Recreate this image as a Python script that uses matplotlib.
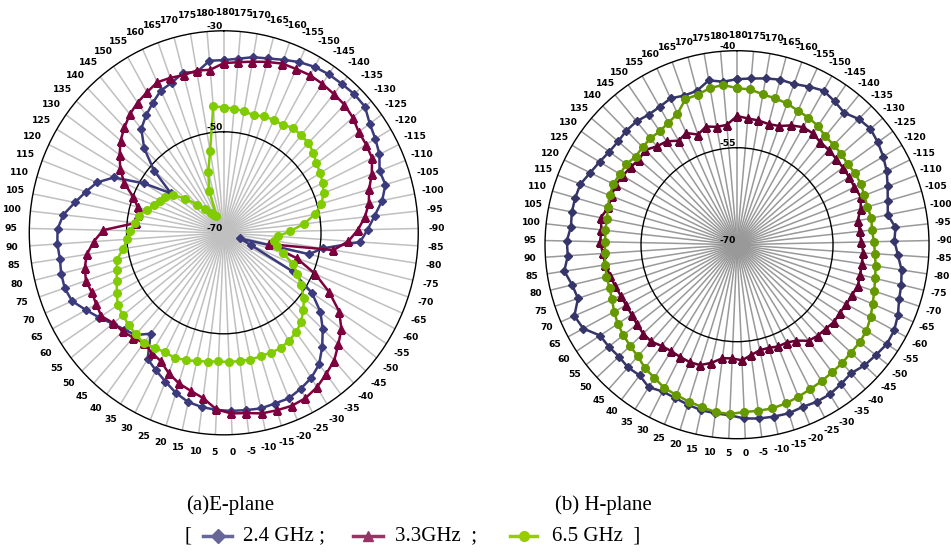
import numpy as np
import matplotlib as mpl
mpl.use('Agg')
import matplotlib.pyplot as plt
from matplotlib.lines import Line2D

# categories: -180 .. 180 step 5 (73 spokes)
angles = list(range(-180, 181, 5))

# E-plane (dB)
e_24 = [-35.8, -35.4, -34.7, -34.3, -33.6, -32.8, -32.2, -31.9, -31.8, -31.6,
        -31.7, -33.0, -33.7, -34.4, -35.7, -35.4, -36.8, -38.8, -40.4, -41.9,
        -49.4, -52.0, -66.5, -64.0, -53.9, -48.3, -44.7, -42.1, -39.7, -37.4,
        -36.1, -35.3, -34.6, -34.6, -34.4, -34.6, -34.7, -34.9, -35.2, -35.7,
        -36.8, -38.2, -39.4, -40.5, -45.0, -42.8, -42.0, -40.9, -39.4, -37.8,
        -36.0, -35.5, -35.6, -35.9, -35.7, -35.8, -36.8, -38.8, -40.5, -42.1,
        -44.9, -50.9, -56.6, -51.1, -46.6, -43.3, -41.8, -40.4, -39.0, -38.4,
        -37.2, -37.7, -35.8]
e_33 = [-36.4, -36.1, -35.6, -35.0, -34.4, -34.3, -34.1, -34.2, -34.4, -34.5,
        -35.0, -35.8, -35.9, -36.1, -37.4, -38.9, -39.6, -40.8, -42.4, -44.3,
        -47.2, -60.5, -54.2, -49.5, -45.4, -41.6, -39.2, -37.7, -36.0, -35.0,
        -33.9, -33.2, -33.0, -33.2, -33.4, -34.0, -34.2, -35.0, -37.0, -38.0,
        -38.8, -40.0, -41.5, -42.0, -42.7, -42.1, -41.5, -41.1, -39.9, -40.2,
        -40.4, -40.1, -40.6, -41.5, -43.2, -45.2, -51.8, -52.0, -51.6, -50.0,
        -47.2, -45.2, -43.6, -42.0, -40.8, -39.6, -38.7, -38.0, -37.2, -37.4,
        -37.7, -37.4, -37.6]
e_65 = [-45.2, -45.3, -45.6, -45.9, -45.5, -45.4, -45.4, -44.8, -45.0, -45.1,
        -45.7, -46.5, -46.9, -47.4, -48.0, -49.1, -50.9, -53.4, -56.4, -58.8,
        -59.6, -58.8, -57.1, -54.5, -52.8, -51.0, -49.0, -47.6, -46.2, -45.3,
        -44.8, -44.3, -44.4, -44.4, -44.3, -44.4, -44.4, -44.5, -44.3, -44.0,
        -43.6, -43.3, -43.4, -43.2, -42.6, -43.0, -43.2, -43.6, -43.9, -45.0,
        -46.0, -46.8, -47.4, -49.1, -50.0, -50.8, -51.6, -52.2, -53.5, -54.7,
        -55.4, -56.0, -57.2, -59.6, -62.2, -64.0, -65.2, -66.0, -66.4, -61.2,
        -57.5, -53.6, -44.8]

# H-plane (dB)
h_24 = [-44.4, -44.2, -43.9, -43.6, -43.6, -43.1, -42.6, -43.1, -43.6, -42.8,
        -42.5, -42.9, -43.4, -44.0, -44.8, -45.5, -46.0, -45.1, -45.4, -44.8,
        -44.0, -43.6, -43.3, -42.6, -42.1, -42.0, -42.4, -42.7, -43.3, -43.0,
        -42.7, -42.7, -42.9, -42.7, -42.8, -42.9, -43.1, -43.6, -43.7, -43.8,
        -44.1, -44.4, -44.5, -44.0, -44.7, -44.5, -44.7, -44.5, -44.4, -42.7,
        -42.3, -43.8, -43.5, -42.7, -43.5, -43.4, -43.9, -43.7, -43.7, -43.8,
        -44.5, -45.0, -45.4, -45.5, -45.3, -45.3, -45.6, -45.5, -45.1, -45.5,
        -45.4, -44.2, -44.7]
h_33 = [-50.1, -50.4, -50.5, -50.7, -50.5, -49.7, -49.1, -49.1, -49.5, -49.5,
        -49.6, -49.6, -49.6, -49.6, -49.3, -49.9, -50.8, -50.7, -50.6, -50.2,
        -50.3, -50.2, -50.1, -50.4, -50.6, -50.8, -50.7, -51.0, -51.1, -51.4,
        -52.5, -53.0, -53.0, -53.3, -53.3, -52.8, -52.1, -52.4, -52.3, -51.3,
        -50.5, -50.4, -50.5, -50.6, -50.4, -49.9, -49.9, -50.1, -50.3, -50.3,
        -50.2, -49.9, -49.6, -49.2, -49.0, -48.6, -48.7, -48.3, -49.1, -49.0,
        -48.9, -49.2, -49.5, -49.8, -49.5, -50.3, -50.6, -51.5, -51.0, -51.9,
        -51.1, -51.5, -51.4]
h_65 = [-45.8, -45.9, -46.4, -46.6, -46.8, -47.2, -47.4, -47.7, -48.3, -48.4,
        -48.5, -48.7, -48.5, -48.5, -48.7, -48.8, -48.6, -48.8, -48.6, -48.4,
        -48.1, -47.8, -47.4, -46.9, -46.3, -45.8, -45.6, -45.6, -45.4, -45.3,
        -45.1, -44.9, -44.6, -44.3, -44.1, -44.1, -44.1, -43.8, -43.9, -44.3,
        -44.6, -44.9, -45.1, -45.7, -46.1, -46.8, -47.1, -47.4, -47.7, -48.2,
        -48.7, -49.0, -49.0, -49.2, -49.3, -49.4, -49.3, -49.3, -49.0, -48.7,
        -48.5, -48.7, -48.7, -49.1, -48.9, -48.7, -48.7, -48.3, -47.7, -46.1,
        -46.0, -45.4, -45.2]

theta = np.arange(len(angles)) * 2 * np.pi / len(angles)
TICK_FONT = ['Liberation Sans Narrow', 'DejaVu Sans']


def radar(ax, series, styles, rlim, rmid, spoke_color, pad):
    ax.set_theta_zero_location('N')
    ax.set_theta_direction(-1)
    t = np.append(theta, theta[0])
    for vals, st in zip(series, styles):
        ax.plot(t, list(vals) + [vals[0]], **st)
    ax.set_ylim(*rlim)
    ax.set_xticks(theta)
    ax.set_xticklabels([str(a) for a in angles], fontsize=6.6, fontweight='bold',
                       family=TICK_FONT)
    ax.tick_params(axis='x', pad=pad, length=0)
    ax.set_yticks([rmid])
    ax.set_yticklabels([])
    ax.xaxis.grid(True, color=spoke_color, lw=1.1)
    ax.yaxis.grid(True, color='black', lw=1.0)
    ax.spines['polar'].set_color('black')
    ax.spines['polar'].set_linewidth(1.0)
    ax.set_aspect('auto')
    for r in (rlim[0], rmid, rlim[1]):
        ax.annotate(str(r), xy=(0, r), xytext=(-1, 3), textcoords='offset points',
                    ha='right', va='center', fontsize=6.6, fontweight='bold',
                    family=TICK_FONT)


fig = plt.figure(figsize=(9.51, 5.53), dpi=100)

ax1 = fig.add_axes([0.0308, 0.2137, 0.409, 0.7306], projection='polar')
radar(ax1, [e_24, e_33, e_65],
      [dict(color='#3a3a7c', lw=1.8, marker='D', ms=4.5),
       dict(color='#7f003f', lw=1.8, marker='^', ms=5.5),
       dict(color='#80cc00', lw=1.8, marker='o', ms=5.5)],
      (-70, -30), -50, '#c0c0c0', 6)

ax2 = fig.add_axes([0.5731, 0.2067, 0.4038, 0.7016], projection='polar')
radar(ax2, [h_24, h_33, h_65],
      [dict(color='#35356a', lw=1.8, marker='D', ms=4.5),
       dict(color='#660033', lw=1.8, marker='^', ms=5.5),
       dict(color='#669900', lw=1.8, marker='o', ms=5.5)],
      (-70, -40), -55, '#999999', 4)

serif = 'Liberation Serif'
fig.text(230 / 951, 1 - 505 / 553, '(a)E-plane', ha='center', va='center',
         fontsize=15, family=serif)
fig.text(603 / 951, 1 - 505 / 553, '(b) H-plane', ha='center', va='center',
         fontsize=15, family=serif)

ly = 1 - 536 / 553
fig.text(185 / 951, ly, '[', ha='left', va='center', fontsize=15, family=serif)
legend_items = [('#666699', 'D', 203, 232, '2.4 GHz ;', 243),
                ('#993366', '^', 353, 383, '3.3GHz  ;', 395),
                ('#99cc00', 'o', 510, 537, '6.5 GHz  ]', 552)]
for color, mk, x0, x1, label, tx in legend_items:
    fig.add_artist(Line2D([x0 / 951, x1 / 951], [ly, ly], color=color, lw=2.5,
                          transform=fig.transFigure))
    fig.add_artist(Line2D([(x0 + x1) / 2 / 951], [ly], color=color, marker=mk,
                          ms=7, transform=fig.transFigure))
    fig.text(tx / 951, ly, label, ha='left', va='center', fontsize=15, family=serif)

fig.savefig('out.png', dpi=100)
